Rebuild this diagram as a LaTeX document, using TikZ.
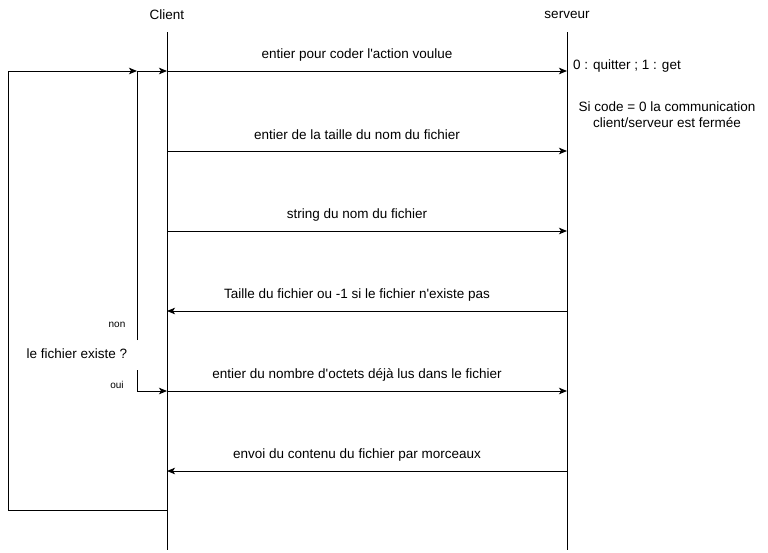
\documentclass[tikz,border=0pt]{standalone}
\usepackage{fontspec}
\setmainfont{Liberation Sans}[Ligatures=TeXOff]
\usetikzlibrary{arrows.meta}
\begin{document}
\begin{tikzpicture}[x=1pt,y=-1pt,
  line/.style={line width=1pt,black},
  msg/.style={line width=1pt,-{Stealth[length=8pt,width=6.5pt,inset=2pt]}},
  lbl/.style={font=\fontsize{13.5}{16}\selectfont,inner sep=0pt},
  small/.style={font=\fontsize{10}{12}\selectfont,inner sep=0pt}]
\useasboundingbox[fill=white] (0,0) rectangle (768,552);
% lifelines
\node[lbl] (client) at (167,15) {Client};
\node[lbl] (serveur) at (567,15) {serveur};
\coordinate (ctop) at (167,32);
\coordinate (cbot) at (167,550);
\coordinate (stop) at (567,32);
\coordinate (sbot) at (567,550);
\draw[line] (ctop) -- (cbot);
\draw[line] (stop) -- (sbot);
% message endpoints
\foreach \i/\y in {1/71,2/151,3/231,4/311,5/391,6/471}{
  \coordinate (c\i) at (167,\y);
  \coordinate (s\i) at (567,\y);
}
\draw[msg] (c1) -- (s1);
\draw[msg] (c2) -- (s2);
\draw[msg] (c3) -- (s3);
\draw[msg] (s4) -- (c4);
\draw[msg] (c5) -- (s5);
\draw[msg] (s6) -- (c6);
% labels
\node[lbl] (l1) at (357,55) {entier pour coder l'action voulue};
\node[lbl] (l2) at (357,135) {entier de la taille du nom du fichier};
\node[lbl] (l3) at (357,215) {string du nom du fichier};
\node[lbl] (l4) at (357,295) {Taille du fichier ou -1 si le fichier n'existe pas};
\node[lbl] (l5) at (357,375) {entier du nombre d'octets déjà lus dans le fichier};
\node[lbl] (l6) at (357,455) {envoi du contenu du fichier par morceaux};
% server notes
\node[lbl,anchor=west] (n1) at (573,66) {0 : quitter ; 1 : get};
\node[lbl,align=center,font=\fontsize{13.5}{16}\selectfont] (n2) at (667,115) {Si code = 0 la communication\\client/serveur est fermée};
% loop
\coordinate (j) at (137,71);
\coordinate (lb) at (8,510);
\coordinate (lt) at (8,71);
\coordinate (cl) at (167,510);
\draw[msg] (cl) -- (lb) -- (lt) -- (j);
\coordinate (nonend) at (137,340);
\draw[msg] (nonend) -- (j) -- (c1);
\coordinate (ouistart) at (137,370);
\coordinate (ouicorner) at (137,391);
\draw[msg] (ouistart) -- (ouicorner) -- (c5);
% decision texts
\node[small] (non) at (117,325) {non};
\node[lbl] (q) at (77,354) {le fichier existe ?};
\node[small] (oui) at (117,385) {oui};
\end{tikzpicture}
\end{document}
